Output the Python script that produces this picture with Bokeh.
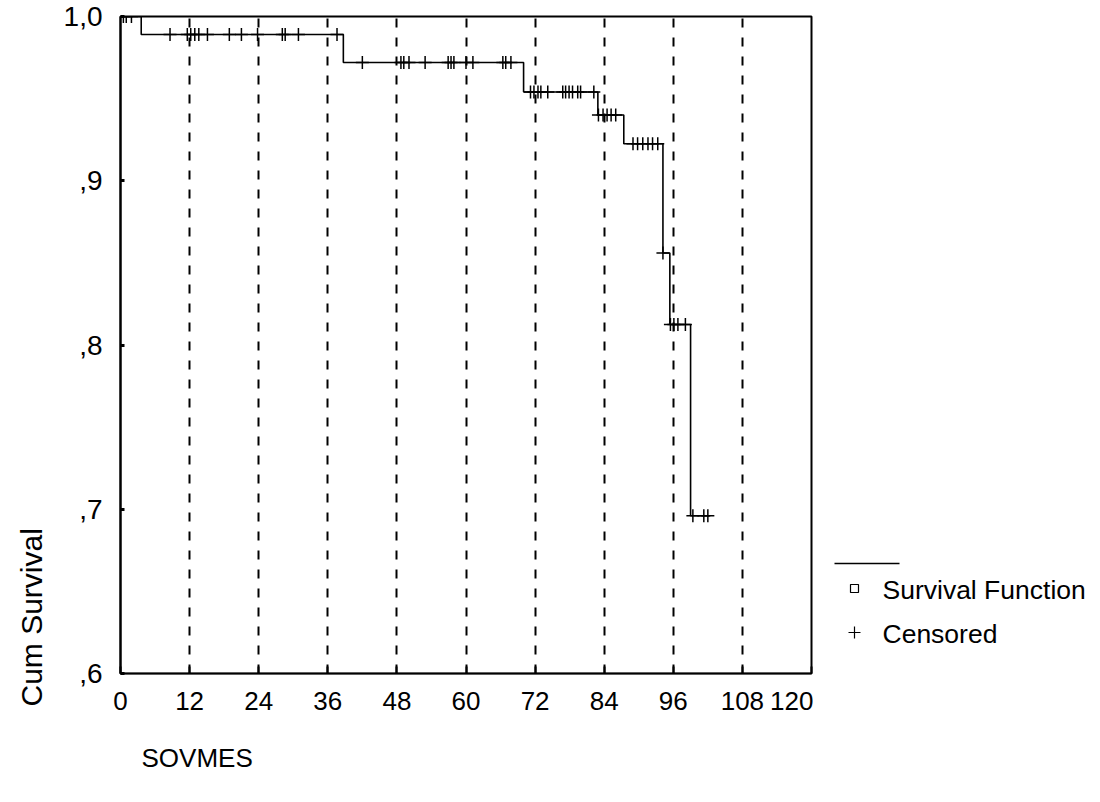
import numpy as np
from bokeh.plotting import figure
from bokeh.layouts import row
from bokeh.models import Range1d, FixedTicker, Title
from bokeh.embed import file_html
from bokeh.resources import INLINE
from bokeh.core.properties import value

# ---- data ----
step_times = [0.0, 3.6, 38.7, 70.0, 82.9, 87.4, 94.2, 95.4, 99.0]
surv_levels = [1.0, 0.989, 0.972, 0.954, 0.940, 0.9225, 0.856, 0.8125, 0.696]
end_time = 102.3

censored_times = [0.5, 1.0, 1.9,
                  8.6, 11.6, 12.2, 12.9, 13.6, 15.1, 18.9, 21.0, 23.8, 28.1, 28.6, 30.9, 37.6,
                  42.0, 48.7, 49.2, 50.1, 52.9, 56.9, 57.4, 57.9, 60.0, 61.2, 66.4, 66.9, 67.8,
                  71.2, 71.8, 72.5, 73.0, 74.2, 76.8, 77.3, 77.9, 78.5, 79.4, 79.9, 82.2,
                  83.0, 83.8, 84.5, 85.2, 86.0,
                  89.0, 89.8, 90.7, 91.6, 92.4, 93.3,
                  94.2,
                  95.5, 96.1, 96.8, 98.1,
                  99.4, 101.3, 102.0]

x_ticks = [0, 12, 24, 36, 48, 60, 72, 84, 96, 108, 120]
y_ticks = [0.6, 0.7, 0.8, 0.9, 1.0]
y_tick_labels = [",6", ",7", ",8", ",9", "1,0"]

x_title = "SOVMES"
y_title = "Cum Survival"
legend_labels = ["Survival Function", "Censored"]

FONT = "Liberation Sans"
H = 800

# ---- main figure ----
p = figure(width=813, height=H, output_backend="svg", toolbar_location=None,
           x_range=Range1d(0, 120), y_range=Range1d(0.6, 1.0),
           min_border_left=119, min_border_right=2, min_border_top=16, min_border_bottom=127)
p.background_fill_color = "white"
p.border_fill_color = "white"
p.outline_line_color = "black"
p.outline_line_width = 2

p.xaxis.ticker = FixedTicker(ticks=x_ticks)
p.yaxis.ticker = FixedTicker(ticks=y_ticks)
p.yaxis.major_label_overrides = {t: l for t, l in zip(y_ticks, y_tick_labels)}
for ax in (p.xaxis[0], p.yaxis[0]):
    ax.axis_line_color = "black"
    ax.major_tick_line_color = "black"
    ax.minor_tick_line_color = None
    ax.major_tick_out = 0
    ax.major_label_text_font = FONT
    ax.major_label_text_color = "black"
p.yaxis.axis_line_width = 2
p.yaxis.major_tick_line_width = 3
p.yaxis.major_tick_in = 4
p.yaxis.major_label_text_font_size = "28px"
p.yaxis.major_label_standoff = 18
p.xaxis.axis_line_width = 1.5
p.xaxis.major_tick_line_width = 2
p.xaxis.major_tick_in = 7
p.xaxis.major_label_text_font_size = "26px"
p.xaxis.major_label_standoff = 18

p.xgrid.ticker = FixedTicker(ticks=x_ticks[1:-1])
p.xgrid.grid_line_color = "black"
p.xgrid.grid_line_width = 2
p.xgrid.grid_line_dash = "9 10"
p.ygrid.grid_line_color = None

# survival step function
xs = step_times + [end_time]
ys = surv_levels + [surv_levels[-1]]
p.step(xs, ys, mode="after", line_color="black", line_width=1.6)

# censored marks, placed on the step function
ct = np.array(censored_times)
idx = np.searchsorted(np.array(step_times), ct, side="right") - 1
cy = np.array(surv_levels)[idx]
p.scatter(ct, cy, marker="cross", size=13, line_color="black", line_width=1.5)

# axis titles
p.add_layout(Title(text=y_title, align="left", offset=-33, standoff=25,
                   text_font=FONT, text_font_size="30px", text_font_style="normal",
                   text_color="black"), "left")
p.add_layout(Title(text=x_title, align="left", offset=21, standoff=56,
                   text_font=FONT, text_font_size="26px", text_font_style="normal",
                   text_color="black"), "below")

# ---- legend panel (frame aligned with the main plot; page pixel coordinates) ----
lg = figure(width=279, height=H, output_backend="svg", toolbar_location=None,
            x_range=Range1d(813, 1092), y_range=Range1d(673, 16),
            min_border_left=0, min_border_right=0,
            min_border_top=16, min_border_bottom=127)
lg.axis.visible = False
lg.grid.visible = False
lg.outline_line_color = None
lg.background_fill_color = "white"
lg.border_fill_color = "white"

lg.line([834, 899], [563, 563], line_color="black", line_width=1.5)
lg.scatter([854], [588], marker="square", size=8, fill_color="white",
           line_color="black", line_width=1.2)
lg.scatter([854], [632], marker="cross", size=12, line_color="black", line_width=1.2)
lg.text([882, 882], [589, 633], text=legend_labels, text_font=value(FONT),
        text_font_size="26.5px", text_baseline="middle", text_align="left", text_color="black")

layout = row(p, lg)
open("out.html", "w").write(file_html(layout, INLINE))
